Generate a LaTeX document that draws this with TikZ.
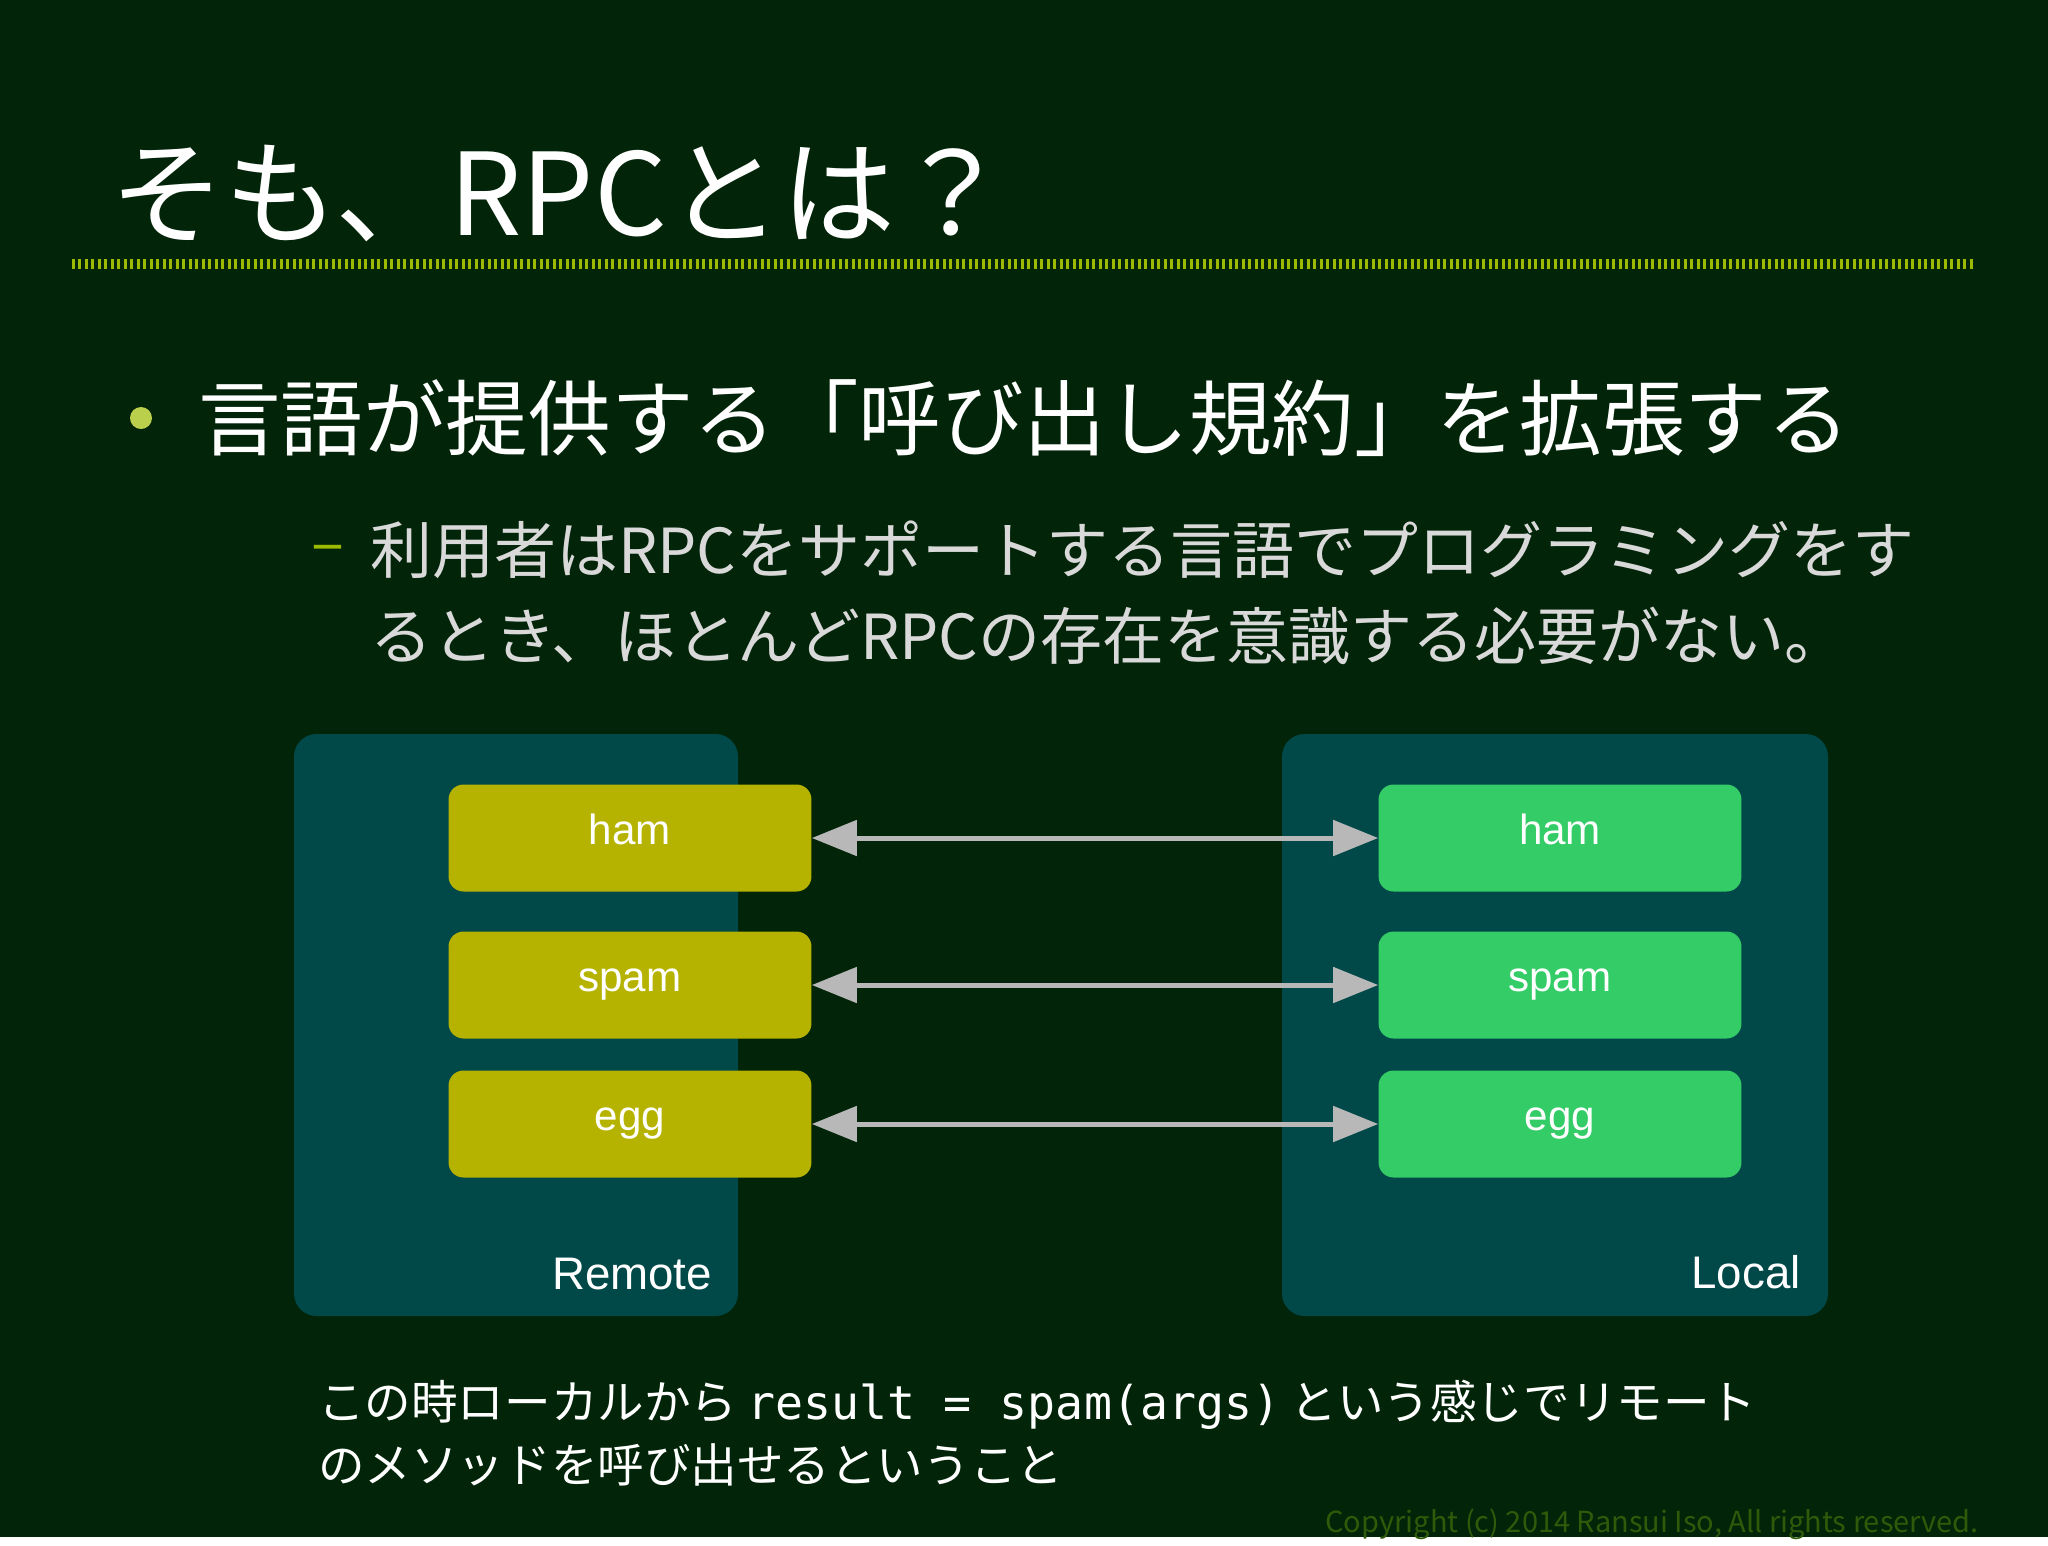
\documentclass[tikz,border=0pt]{standalone}
\usepackage{fontspec}
\setmainfont{Noto Sans CJK JP}
\newfontfamily\sansf{Liberation Sans}
\newfontfamily\monof{DejaVu Sans Mono}
\usetikzlibrary{arrows.meta}

\definecolor{bgcol}{HTML}{022408}
\definecolor{rulecol}{HTML}{9CBA00}
\definecolor{boxcol}{HTML}{014848}
\definecolor{remotecol}{HTML}{B5B300}
\definecolor{localcol}{HTML}{33CC66}
\definecolor{arrowcol}{HTML}{B8B8B8}
\definecolor{copycol}{HTML}{2F5A0A}

\begin{document}
\begin{tikzpicture}[x=0.02cm, y=-0.02cm,
  panel/.style={fill=boxcol, rounded corners=0.45cm},
  func/.style={rounded corners=0.3cm, minimum width=7.26cm, minimum height=2.14cm,
    text height=0.7em, text depth=0pt,
    text=white, font=\sansf\fontsize{24}{28}\selectfont},
  link/.style={arrowcol, line width=0.1cm,
    {Triangle[length=0.9cm,width=0.7cm]}-{Triangle[length=0.9cm,width=0.7cm]}},
  paneltext/.style={text=white, font=\sansf\fontsize{26}{30}\selectfont}]

% background
\fill[bgcol] (0,0) rectangle (2048,1537);

% title and rule
\node[anchor=base west, text=white, font=\fontsize{65}{72}\selectfont] (title) at (104,235) {そも、RPCとは？};
\draw[rulecol, line width=0.2cm, dash pattern=on 0.06cm off 0.07cm] (72,264) -- (1975,264);

% bullets
\fill[rulecol!70!white] (141,418) circle (11);
\node[anchor=west, text=white, font=\fontsize{47}{52}\selectfont] (point) at (192,418)
  {言語が提供する「呼び出し規約」を拡張する};
\node[anchor=west, text=rulecol, font=\fontsize{35}{40}\selectfont] (dash) at (305,555) {–};
\node[anchor=north west, align=left, text=white!85!black, font=\fontsize{35.3}{49}\selectfont] (sub) at (364,515)
  {利用者はRPCをサポートする言語でプログラミングをす\\るとき、ほとんどRPCの存在を意識する必要がない。};

% panels
\fill[panel] (294,734) rectangle (738,1316);
\fill[panel] (1282,734) rectangle (1828,1316);

% functions
\node[func, fill=remotecol] (rham)  at (630,838)  {ham};
\node[func, fill=remotecol] (rspam) at (630,985)  {spam};
\node[func, fill=remotecol] (regg)  at (630,1124) {egg};
\node[func, fill=localcol]  (lham)  at (1560,838) {ham};
\node[func, fill=localcol]  (lspam) at (1560,985) {spam};
\node[func, fill=localcol]  (legg)  at (1560,1124) {egg};

\foreach \a/\b in {rham/lham, rspam/lspam, regg/legg}
  \draw[link] (\a) -- (\b);

\node[paneltext] (remote) at (632,1274) {Remote};
\node[paneltext] (local)  at (1746,1272) {Local};

% note
\node[anchor=north west, align=left, text=white, font=\fontsize{26.5}{36}\selectfont] (note) at (312,1374)
  {この時ローカルから {\monof result = spam(args)} という感じでリモート\\のメソッドを呼び出せるということ};

\node[anchor=base east, text=copycol, font=\fontsize{16.5}{20}\selectfont] (copy) at (1985,1532)
  {Copyright (c) 2014 Ransui Iso, All rights reserved.};
\end{tikzpicture}
\end{document}
